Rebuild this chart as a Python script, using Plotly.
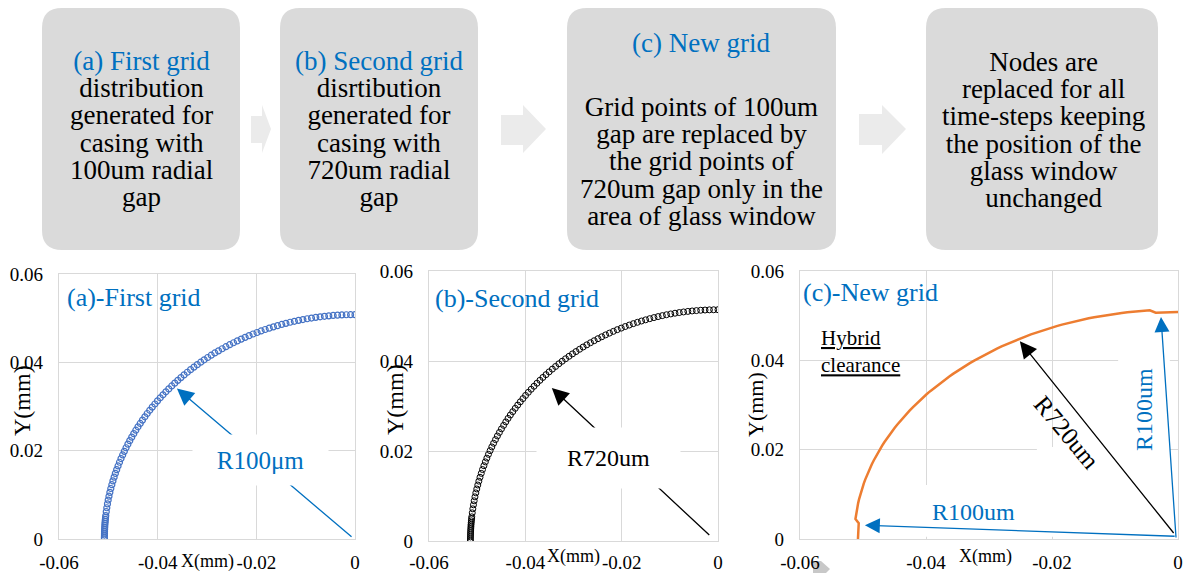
import plotly.graph_objects as go

W, H = 1183, 573
FONT = "Liberation Serif"
BLUE = "#0070C0"
GRID = "#d9d9d9"
BOXFILL = "#dadada"
ARROWFILL = "#ebebeb"

# ---------------- data (mm) ----------------
# (a) first grid, 100um radial gap
a_x = [-0.05080, -0.05079, -0.05077, -0.05073, -0.05068, -0.05061, -0.05052, -0.05042, -0.05031, -0.05018,
       -0.05003, -0.04987, -0.04969, -0.04950, -0.04929, -0.04907, -0.04883, -0.04858, -0.04831, -0.04803,
       -0.04774, -0.04743, -0.04710, -0.04676, -0.04641, -0.04604, -0.04566, -0.04526, -0.04485, -0.04443,
       -0.04399, -0.04354, -0.04308, -0.04260, -0.04212, -0.04161, -0.04110, -0.04057, -0.04003, -0.03948,
       -0.03892, -0.03834, -0.03775, -0.03715, -0.03654, -0.03592, -0.03529, -0.03465, -0.03399, -0.03333,
       -0.03265, -0.03197, -0.03128, -0.03057, -0.02986, -0.02914, -0.02841, -0.02767, -0.02692, -0.02616,
       -0.02540, -0.02463, -0.02385, -0.02306, -0.02227, -0.02147, -0.02066, -0.01985, -0.01903, -0.01821,
       -0.01738, -0.01654, -0.01570, -0.01485, -0.01400, -0.01315, -0.01229, -0.01143, -0.01056, -0.00969,
       -0.00882, -0.00795, -0.00707, -0.00619, -0.00531, -0.00443, -0.00354, -0.00266, -0.00177, -0.00089,
       0.0]
a_y = [0.0, 0.00089, 0.00177, 0.00266, 0.00354, 0.00443, 0.00531, 0.00619, 0.00707, 0.00795,
       0.00882, 0.00969, 0.01056, 0.01143, 0.01229, 0.01315, 0.01400, 0.01485, 0.01570, 0.01654,
       0.01738, 0.01821, 0.01903, 0.01985, 0.02066, 0.02147, 0.02227, 0.02306, 0.02385, 0.02463,
       0.02540, 0.02616, 0.02692, 0.02767, 0.02841, 0.02914, 0.02986, 0.03057, 0.03128, 0.03197,
       0.03265, 0.03333, 0.03399, 0.03465, 0.03529, 0.03592, 0.03654, 0.03715, 0.03775, 0.03834,
       0.03892, 0.03948, 0.04003, 0.04057, 0.04110, 0.04161, 0.04212, 0.04260, 0.04308, 0.04354,
       0.04399, 0.04443, 0.04485, 0.04526, 0.04566, 0.04604, 0.04641, 0.04676, 0.04710, 0.04743,
       0.04774, 0.04803, 0.04831, 0.04858, 0.04883, 0.04907, 0.04929, 0.04950, 0.04969, 0.04987,
       0.05003, 0.05018, 0.05031, 0.05042, 0.05052, 0.05061, 0.05068, 0.05073, 0.05077, 0.05079,
       0.05080]
a_dense_x = [-0.05080, -0.05078, -0.05075, -0.05071, -0.05064, -0.05057]
a_dense_y = [0.00044, 0.00133, 0.00222, 0.00310, 0.00399, 0.00487]

# (b) second grid, 720um radial gap
b_x = [-0.05140, -0.05139, -0.05137, -0.05133, -0.05128, -0.05120, -0.05112, -0.05102, -0.05090, -0.05077,
       -0.05062, -0.05046, -0.05028, -0.05008, -0.04987, -0.04965, -0.04941, -0.04915, -0.04889, -0.04860,
       -0.04830, -0.04799, -0.04766, -0.04731, -0.04696, -0.04659, -0.04620, -0.04580, -0.04538, -0.04496,
       -0.04451, -0.04406, -0.04359, -0.04311, -0.04261, -0.04210, -0.04158, -0.04105, -0.04050, -0.03995,
       -0.03938, -0.03879, -0.03820, -0.03759, -0.03697, -0.03635, -0.03571, -0.03506, -0.03439, -0.03372,
       -0.03304, -0.03235, -0.03165, -0.03093, -0.03021, -0.02948, -0.02874, -0.02800, -0.02724, -0.02647,
       -0.02570, -0.02492, -0.02413, -0.02334, -0.02253, -0.02172, -0.02091, -0.02008, -0.01926, -0.01842,
       -0.01758, -0.01673, -0.01588, -0.01503, -0.01417, -0.01330, -0.01244, -0.01156, -0.01069, -0.00981,
       -0.00893, -0.00804, -0.00715, -0.00626, -0.00537, -0.00448, -0.00359, -0.00269, -0.00179, -0.00090,
       0.0]
b_y = [0.0, 0.00090, 0.00179, 0.00269, 0.00359, 0.00448, 0.00537, 0.00626, 0.00715, 0.00804,
       0.00893, 0.00981, 0.01069, 0.01156, 0.01244, 0.01330, 0.01417, 0.01503, 0.01588, 0.01673,
       0.01758, 0.01842, 0.01926, 0.02008, 0.02091, 0.02172, 0.02253, 0.02334, 0.02413, 0.02492,
       0.02570, 0.02647, 0.02724, 0.02800, 0.02874, 0.02948, 0.03021, 0.03093, 0.03165, 0.03235,
       0.03304, 0.03372, 0.03439, 0.03506, 0.03571, 0.03635, 0.03697, 0.03759, 0.03820, 0.03879,
       0.03938, 0.03995, 0.04050, 0.04105, 0.04158, 0.04210, 0.04261, 0.04311, 0.04359, 0.04406,
       0.04451, 0.04496, 0.04538, 0.04580, 0.04620, 0.04659, 0.04696, 0.04731, 0.04766, 0.04799,
       0.04830, 0.04860, 0.04889, 0.04915, 0.04941, 0.04965, 0.04987, 0.05008, 0.05028, 0.05046,
       0.05062, 0.05077, 0.05090, 0.05102, 0.05112, 0.05120, 0.05128, 0.05133, 0.05137, 0.05139,
       0.05140]
b_dense_x = [-0.05140, -0.05138, -0.05135, -0.05130, -0.05124, -0.05116]
b_dense_y = [0.00045, 0.00135, 0.00224, 0.00314, 0.00403, 0.00493]

# (c) hybrid grid: 100um points at both ends, 720um points in the glass-window region
c_x = a_x[:5] + b_x[5:86] + a_x[86:]
c_y = a_y[:5] + b_y[5:86] + a_y[86:]

x_tick_vals = [-0.06, -0.04, -0.02, 0]
x_tick_labels = ["-0.06", "-0.04", "-0.02", "0"]
y_tick_vals = [0, 0.02, 0.04, 0.06]
y_tick_labels = ["0", "0.02", "0.04", "0.06"]

box1_lines = ["(a) First grid", "distribution", "generated for", "casing with", "100um radial", "gap"]
box2_lines = ["(b) Second grid", "disrtibution", "generated for", "casing with", "720um radial", "gap"]
box3_title = "(c) New grid"
box3_lines = ["Grid points of 100um", "gap are replaced by", "the grid points of",
              "720um gap only in the", "area of glass window"]
box4_lines = ["Nodes are", "replaced for all", "time-steps keeping", "the position of the",
              "glass window", "unchanged"]


def px(x):
    return x / W


def py(y):
    return 1 - y / H


fig = go.Figure()
mk = dict(mode="markers", showlegend=False, hoverinfo="skip")
blue_mk = dict(symbol="circle-open", size=6, color="#4472C4", line=dict(width=1.2))
black_mk = dict(symbol="circle-open", size=6, color="#000000", line=dict(width=1.0))
fig.add_trace(go.Scatter(x=a_x, y=a_y, xaxis="x", yaxis="y", marker=blue_mk, **mk))
fig.add_trace(go.Scatter(x=a_dense_x, y=a_dense_y, xaxis="x", yaxis="y", marker=blue_mk, **mk))
fig.add_trace(go.Scatter(x=b_x, y=b_y, xaxis="x2", yaxis="y2", marker=black_mk, **mk))
fig.add_trace(go.Scatter(x=b_dense_x, y=b_dense_y, xaxis="x2", yaxis="y2", marker=black_mk, **mk))
fig.add_trace(go.Scatter(x=c_x, y=c_y, xaxis="x3", yaxis="y3", mode="lines",
                         line=dict(color="#ED7D31", width=2.5), showlegend=False, hoverinfo="skip"))


def xax(dom, anchor, standoff=6):
    return dict(domain=dom, anchor=anchor, range=[-0.06, 0], tickvals=x_tick_vals, ticktext=x_tick_labels,
                showgrid=True, gridcolor=GRID, gridwidth=1.3, showline=True, linecolor=GRID, linewidth=1.3,
                mirror=True, zeroline=False, ticks="", ticklabelstandoff=standoff, automargin=False,
                tickfont=dict(family=FONT, size=19, color="black"), fixedrange=True)


def yax(dom, anchor):
    return dict(domain=dom, anchor=anchor, range=[0, 0.06], tickvals=y_tick_vals, ticktext=y_tick_labels,
                showgrid=True, gridcolor=GRID, gridwidth=1.3, showline=True, linecolor=GRID, linewidth=1.3,
                mirror=True, zeroline=False, ticks="", ticklabelstandoff=11, automargin=False,
                tickfont=dict(family=FONT, size=19, color="black"), fixedrange=True)


shapes = []


def rrect(x0, y0, x1, y1, r):
    return (f"M{px(x0 + r)},{py(y0)} L{px(x1 - r)},{py(y0)} Q{px(x1)},{py(y0)} {px(x1)},{py(y0 + r)} "
            f"L{px(x1)},{py(y1 - r)} Q{px(x1)},{py(y1)} {px(x1 - r)},{py(y1)} "
            f"L{px(x0 + r)},{py(y1)} Q{px(x0)},{py(y1)} {px(x0)},{py(y1 - r)} "
            f"L{px(x0)},{py(y0 + r)} Q{px(x0)},{py(y0)} {px(x0 + r)},{py(y0)} Z")


def chevron(x0, x1, x2, yb0, yb1, yh0, yh1, yt):
    pts = [(x0, yb0), (x1, yb0), (x1, yh0), (x2, yt), (x1, yh1), (x1, yb1), (x0, yb1)]
    return "M" + " L".join(f"{px(a)},{py(b)}" for a, b in pts) + " Z"


for (x0, x1) in [(42, 240), (280, 478), (567, 836), (926, 1158)]:
    shapes.append(dict(type="path", xref="paper", yref="paper", path=rrect(x0, 8, x1, 250, 20),
                       fillcolor=BOXFILL, line=dict(width=0), layer="below"))
shapes.append(dict(type="path", xref="paper", yref="paper", path=chevron(251, 262, 271, 116, 143, 105, 153, 129),
                   fillcolor=ARROWFILL, line=dict(width=0), layer="below"))
shapes.append(dict(type="path", xref="paper", yref="paper", path=chevron(501, 523, 546, 115, 145, 105, 153, 129),
                   fillcolor=ARROWFILL, line=dict(width=0), layer="below"))
shapes.append(dict(type="path", xref="paper", yref="paper", path=chevron(859, 882, 906, 114, 145, 105, 154, 129),
                   fillcolor=ARROWFILL, line=dict(width=0), layer="below"))
shapes.append(dict(type="path", xref="paper", yref="paper",
                   path=f"M{px(813)},{py(561)} L{px(821)},{py(561)} L{px(830)},{py(569)} L{px(826)},{py(573)} L{px(813)},{py(573)} Z",
                   fillcolor="#c8c8c8", line=dict(width=0), layer="below"))

# white label backgrounds in (c)
for (x0, x1, y0, y1) in [(-0.0224, -0.0090, 0.0121, 0.0206), (-0.0095, -0.0013, 0.0188, 0.0412),
                         (-0.0473, -0.0076, 0.0005, 0.0121)]:
    shapes.append(dict(type="rect", xref="x3", yref="y3", x0=x0, x1=x1, y0=y0, y1=y1,
                       fillcolor="white", line=dict(width=0), layer="between"))

ann = []


def txt(x, y, s, size=25, color="black", xanchor="center", **kw):
    d = dict(xref="paper", yref="paper", x=px(x), y=py(y), text=s, showarrow=False, xanchor=xanchor,
             yanchor="middle", font=dict(family=FONT, size=size, color=color))
    d.update(kw)
    ann.append(d)


LINE_PX = 27.2      # line pitch inside the flow boxes
GLYPH_PX = 27       # glyph size inside the flow boxes


def block(cx, cy, lines, first_blue):
    parts = []
    for i, s in enumerate(lines):
        col = BLUE if (first_blue and i == 0) else "black"
        parts.append(f"<span style='font-size:{GLYPH_PX}px;color:{col}'>{s}</span>")
    txt(cx, cy, "<br>".join(parts), LINE_PX / 1.3, "black")


block(141, 129, box1_lines, True)
block(379, 129, box2_lines, True)
txt(701, 43, box3_title, GLYPH_PX, BLUE)
block(701, 162, box3_lines, False)
block(1043, 130, box4_lines, False)


def arrow(xr, yr, tip, tail, color, size=2.6):
    ann.append(dict(xref=xr, yref=yr, axref=xr, ayref=yr, x=tip[0], y=tip[1], ax=tail[0], ay=tail[1],
                    text="", showarrow=True, arrowhead=2, arrowsize=size, arrowwidth=1.3,
                    arrowcolor=color, standoff=0))


# (a)
txt(65, 297, "(a)-First grid", 26, BLUE, xanchor="left")
arrow("x", "y", (-0.0361, 0.0341), (-0.0004, 0.0002), BLUE)
txt(260, 460, "R100\u03bcm", 25, BLUE, bgcolor="white", width=135, height=50, borderpad=0)
txt(22, 401, "Y(mm)", 24, textangle=-90)
txt(207, 561, "X(mm)", 18)

# (b)
txt(433, 298, "(b)-Second grid", 26, BLUE, xanchor="left")
arrow("x2", "y2", (-0.0345, 0.0340), (-0.0015, 0.0010), "black")
txt(608, 458, "R720um", 24, "black", bgcolor="white", width=143, height=60, borderpad=0)
txt(395, 400, "Y(mm)", 24, textangle=-90)
txt(573, 556, "X(mm)", 18)

# (c)
txt(801, 292, "(c)-New grid", 26, BLUE, xanchor="left")
txt(819, 351, "<u>Hybrid</u><br><u>clearance</u>", 21, "black", xanchor="left", align="left")
txt(1067, 432, "R720um", 25, "black", textangle=50)
txt(1144, 410, "R100um", 24, BLUE, textangle=-90)
txt(973, 512, "R100um", 24, BLUE)
arrow("x3", "y3", (-0.0251, 0.0443), (-0.0005, 0.0010), "black")
arrow("x3", "y3", (-0.0497, 0.0031), (-0.0003, 0.0006), BLUE, 2.3)
arrow("x3", "y3", (-0.0027, 0.0497), (-0.0003, 0.0000), BLUE, 2.3)
txt(755, 404, "Y(mm)", 22, textangle=-90)
txt(985, 556, "X(mm)", 18)

fig.update_layout(
    width=W, height=H, margin=dict(l=0, r=0, t=0, b=0, pad=0), autosize=False,
    paper_bgcolor="white", plot_bgcolor="white", showlegend=False,
    xaxis=xax([59 / W, 355 / W], "y"), yaxis=yax([py(539), py(274)], "x"),
    xaxis2=xax([429 / W, 718 / W], "y2", 4), yaxis2=yax([py(541), py(271)], "x2"),
    xaxis3=xax([800 / W, 1178 / W], "y3"), yaxis3=yax([py(539), py(271)], "x3"),
    shapes=shapes, annotations=ann,
    font=dict(family=FONT),
)

fig.write_html("out.html")
